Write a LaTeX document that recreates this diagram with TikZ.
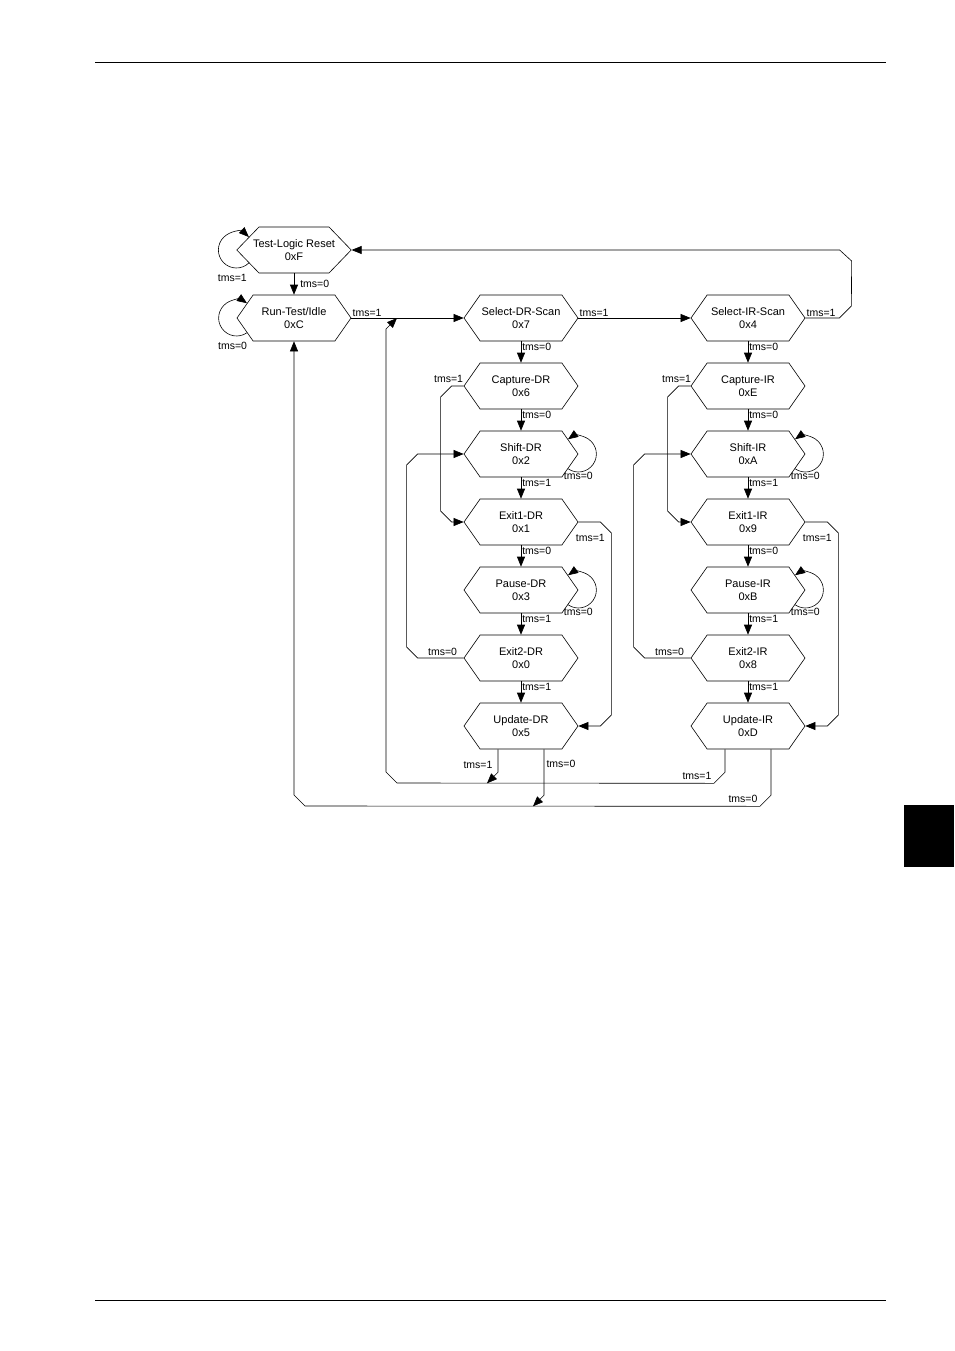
\documentclass[tikz,border=0pt]{standalone}
\usepackage{fontspec}
\setmainfont{Liberation Sans}
\usetikzlibrary{shapes.symbols,arrows.meta}

\tikzset{
  hexstate/.style={signal, signal to=west and east, signal pointer angle=110, draw,
    minimum width=114pt, minimum height=46pt, inner sep=0pt, align=center,
    font=\fontsize{11}{13}\selectfont},
  lbl/.style={inner sep=1pt, font=\fontsize{10.5}{12}\selectfont},
  edgearr/.style={-{Triangle[length=10pt,width=8pt]}},
}

\begin{document}
\begin{tikzpicture}[x=1pt,y=-1pt,line width=0.6pt]
        \useasboundingbox (0,0) rectangle (954,1351);
        \draw[line width=0.9pt] (95,62) -- (886,62);
        \draw[line width=0.9pt] (95,1300) -- (886,1300);
        \fill (904,805) rectangle (954,867);

        \node[hexstate, signal pointer angle=92] (tlr) at (294,250) {\makebox[70pt]{Test-Logic Reset}\\0xF};
        \node[hexstate] (rti) at (294,318) {Run-Test/Idle\\0xC};
        \node[hexstate] (sdr) at (521,318) {Select-DR-Scan\\0x7};
        \node[hexstate] (cdr) at (521,386) {Capture-DR\\0x6};
        \node[hexstate] (shdr) at (521,454) {Shift-DR\\0x2};
        \node[hexstate] (e1dr) at (521,522) {Exit1-DR\\0x1};
        \node[hexstate] (pdr) at (521,590) {Pause-DR\\0x3};
        \node[hexstate] (e2dr) at (521,658) {Exit2-DR\\0x0};
        \node[hexstate] (udr) at (521,726) {Update-DR\\0x5};
        \node[hexstate] (sir) at (748,318) {Select-IR-Scan\\0x4};
        \node[hexstate] (cir) at (748,386) {Capture-IR\\0xE};
        \node[hexstate] (shir) at (748,454) {Shift-IR\\0xA};
        \node[hexstate] (e1ir) at (748,522) {Exit1-IR\\0x9};
        \node[hexstate] (pir) at (748,590) {Pause-IR\\0xB};
        \node[hexstate] (e2ir) at (748,658) {Exit2-IR\\0x8};
        \node[hexstate] (uir) at (748,726) {Update-IR\\0xD};

        \coordinate (jsel) at (397,318);

        \draw[edgearr] (tlr.south) -- node[lbl, right=5pt] (l01) {tms=0} (rti.north);
        \draw[edgearr] (sdr.south) -- node[lbl, right, pos=0.27] (l02) {tms=0} (cdr.north);
        \draw[edgearr] (cdr.south) -- node[lbl, right, pos=0.27] (l03) {tms=0} (shdr.north);
        \draw[edgearr] (shdr.south) -- node[lbl, right, pos=0.27] (l04) {tms=1} (e1dr.north);
        \draw[edgearr] (e1dr.south) -- node[lbl, right, pos=0.27] (l05) {tms=0} (pdr.north);
        \draw[edgearr] (pdr.south) -- node[lbl, right, pos=0.27] (l06) {tms=1} (e2dr.north);
        \draw[edgearr] (e2dr.south) -- node[lbl, right, pos=0.27] (l07) {tms=1} (udr.north);
        \draw[edgearr] (sir.south) -- node[lbl, right, pos=0.27] (l08) {tms=0} (cir.north);
        \draw[edgearr] (cir.south) -- node[lbl, right, pos=0.27] (l09) {tms=0} (shir.north);
        \draw[edgearr] (shir.south) -- node[lbl, right, pos=0.27] (l10) {tms=1} (e1ir.north);
        \draw[edgearr] (e1ir.south) -- node[lbl, right, pos=0.27] (l11) {tms=0} (pir.north);
        \draw[edgearr] (pir.south) -- node[lbl, right, pos=0.27] (l12) {tms=1} (e2ir.north);
        \draw[edgearr] (e2ir.south) -- node[lbl, right, pos=0.27] (l13) {tms=1} (uir.north);

        \draw[edgearr] (rti.east) -- node[lbl, pos=0, above right] (l14) {tms=1} (sdr.west);
        \draw[edgearr] (sdr.east) -- node[lbl, pos=0, above right] (l15) {tms=1} (sir.west);
        \draw[edgearr] (sir.east) -- node[lbl, pos=0, above right] (l16) {tms=1} ++(34,0) -- ++(12,-12)
            -- ([shift={(500,11)}]tlr.east) -- ([shift={(488,0)}]tlr.east) -- (tlr.east);

        \draw[edgearr] ([shift={(46:18)}]tlr.west) arc[start angle=46, end angle=314, radius=18];
        \draw[edgearr] ([shift={(55:18)}]rti.west) arc[start angle=55, end angle=305, radius=18];
        \draw[edgearr] ([shift={(125:18)}]shdr.east) arc[start angle=125, end angle=-125, radius=18];
        \draw[edgearr] ([shift={(125:18)}]pdr.east) arc[start angle=125, end angle=-125, radius=18];
        \draw[edgearr] ([shift={(125:18)}]shir.east) arc[start angle=125, end angle=-125, radius=18];
        \draw[edgearr] ([shift={(125:18)}]pir.east) arc[start angle=125, end angle=-125, radius=18];
        \node[lbl] (l17) at ([shift={(-4,28)}]tlr.west) {tms=1};
        \node[lbl] (l18) at ([shift={(-4,28)}]rti.west) {tms=0};
        \node[lbl] (l19) at ([shift={(0,22)}]shdr.east) {tms=0};
        \node[lbl] (l20) at ([shift={(0,22)}]pdr.east) {tms=0};
        \node[lbl] (l21) at ([shift={(0,22)}]shir.east) {tms=0};
        \node[lbl] (l22) at ([shift={(0,22)}]pir.east) {tms=0};

        % capture -> exit1
        \draw[edgearr] (cdr.west) -- ++(-12,0) -- ++(-11,11) -- ([shift={(-23,-11)}]e1dr.west)
            -- ([shift={(-12,0)}]e1dr.west) -- (e1dr.west);
        \draw[edgearr] (cir.west) -- ++(-12,0) -- ++(-11,11) -- ([shift={(-23,-11)}]e1ir.west)
            -- ([shift={(-12,0)}]e1ir.west) -- (e1ir.west);
        \node[lbl] (l23) at ([shift={(-15,-7)}]cdr.west) {tms=1};
        \node[lbl] (l24) at ([shift={(-14,-7)}]cir.west) {tms=1};

        % exit1 -> update
        \draw[edgearr] (e1dr.east) -- ++(22,0) -- ++(11,11) -- ([shift={(33,-11)}]udr.east)
            -- ([shift={(22,0)}]udr.east) -- (udr.east);
        \draw[edgearr] (e1ir.east) -- ++(22,0) -- ++(11,11) -- ([shift={(33,-11)}]uir.east)
            -- ([shift={(22,0)}]uir.east) -- (uir.east);
        \node[lbl] (l25) at ([shift={(12,16)}]e1dr.east) {tms=1};
        \node[lbl] (l26) at ([shift={(12,16)}]e1ir.east) {tms=1};

        % exit2 -> shift
        \draw[edgearr] (e2dr.west) -- ++(-46,0) -- ++(-11,-11) -- ([shift={(-57,11)}]shdr.west)
            -- ([shift={(-46,0)}]shdr.west) -- (shdr.west);
        \draw[edgearr] (e2ir.west) -- ++(-46,0) -- ++(-11,-11) -- ([shift={(-57,11)}]shir.west)
            -- ([shift={(-46,0)}]shir.west) -- (shir.west);
        \node[lbl] (l27) at ([shift={(-21,-6)}]e2dr.west) {tms=0};
        \node[lbl] (l28) at ([shift={(-21,-6)}]e2ir.west) {tms=0};

        % update exits
        \draw[edgearr] ([xshift=-23pt]udr.south) -- ++(0,23) -- ++(-11,11);
        \draw[edgearr] ([xshift=23pt]udr.south) -- ++(0,46) -- ++(-11,11);
        \draw[edgearr] ([xshift=-23pt]uir.south) -- ++(0,23) -- ++(-11,11) -- (397,783)
            -- ++(-11,-11) -- (386,329) -- (jsel);
        \draw[edgearr] ([xshift=23pt]uir.south) -- ++(0,46) -- ++(-11,11) -- (305,806)
            -- ++(-11,-11) -- (rti.south);
        \node[lbl] (l29) at ([shift={(-43,16)}]udr.south) {tms=1};
        \node[lbl] (l30) at ([shift={(40,15)}]udr.south) {tms=0};
        \node[lbl] (l31) at ([shift={(-51,27)}]uir.south) {tms=1};
        \node[lbl] (l32) at ([shift={(-5,50)}]uir.south) {tms=0};

\end{tikzpicture}
\end{document}
